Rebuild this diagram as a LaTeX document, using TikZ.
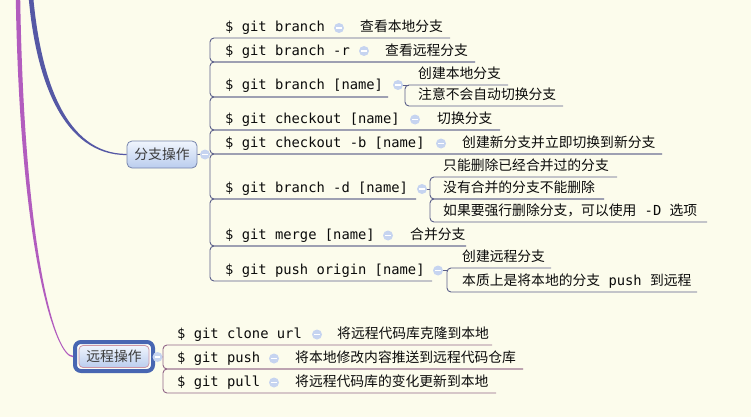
\documentclass[tikz,border=0pt]{standalone}
\usepackage{fontspec}
\setmonofont{DejaVu Sans Mono}
\newfontfamily\cjk{Noto Sans CJK SC}
\definecolor{bg}{RGB}{252,252,236}
\definecolor{txt}{RGB}{10,10,10}
\definecolor{bline}{RGB}{92,96,138}
\definecolor{rline}{RGB}{145,102,135}
\definecolor{bcurve}{RGB}{85,88,165}
\definecolor{mcurve}{RGB}{178,92,190}
\definecolor{collf}{RGB}{198,212,240}
\definecolor{nodetop}{RGB}{240,245,253}
\definecolor{nodebot}{RGB}{186,205,238}
\definecolor{nodeborder}{RGB}{118,132,172}
\definecolor{selring}{RGB}{72,102,178}
\definecolor{rborder}{RGB}{205,150,165}
\tikzset{
  cmd/.style={anchor=base west, inner sep=0pt, text=txt, font=\ttfamily\fontsize{13.8}{16}\selectfont},
  desc/.style={anchor=base west, inner sep=0pt, text=txt, font=\cjk\fontsize{13.8}{16}\selectfont},
  coll/.style={circle, inner sep=0pt, minimum size=10pt, fill=collf,
    path picture={\draw[white, line width=1.1pt] ([xshift=-2.6pt]path picture bounding box.center) -- ([xshift=2.6pt]path picture bounding box.center);}},
  bl/.style={draw=bline, line width=0.9pt, rounded corners=4pt},
  rl/.style={draw=rline, line width=0.9pt, rounded corners=4pt},
  topic/.style={rounded corners=5pt, top color=nodetop, bottom color=nodebot,
    text=txt!80, font=\cjk\fontsize{13.8}{16}\selectfont, inner sep=0pt},
}
\begin{document}
\begin{tikzpicture}[x=1pt,y=-1pt]
\fill[bg] (0,0) rectangle (751,417);
\useasboundingbox (0,0) rectangle (751,417);

% ---------- topics ----------
\node[topic, draw=nodeborder, line width=0.8pt, minimum width=70pt, minimum height=27pt] (br) at (162,154.5) {分支操作};
\node[draw=selring, line width=4pt, rounded corners=6pt, fill=white!70!bg, minimum width=78pt, minimum height=29pt, inner sep=0pt] (rmsel) at (114,356.5) {};
\node[topic, draw=rborder, line width=0.8pt, rounded corners=4pt, minimum width=70pt, minimum height=22pt] (rm) at (114,356.5) {远程操作};

% ---------- main curves ----------
\coordinate (root1) at (31,-2);
\coordinate (root2) at (18,-2);
\fill[bcurve] ([xshift=-2.3pt]root1) .. controls (36,80) and (63,155.1) .. ([yshift=-0.6pt]br.west)
  -- ([yshift=0.6pt]br.west) .. controls (66,153.9) and (41,80) .. ([xshift=2.3pt]root1) -- cycle;
\fill[mcurve] ([xshift=-2.2pt]root2) .. controls (19.8,250) and (55,357.8) .. ([yshift=-0.7pt]rmsel.west)
  -- ([yshift=0.7pt]rmsel.west) .. controls (55,356.2) and (24.2,250) .. ([xshift=2.2pt]root2) -- cycle;

% ---------- branch group brackets (spine x=210) ----------
\draw[bl] (450,38) -- (210,38) -- (210,62) -- (475,62);
\draw[bl] (475,62) -- (210,62) -- (210,97) -- (388,97);
\draw[bl] (388,97) -- (210,97) -- (210,130) -- (500,130);
\draw[bl] (500,130) -- (210,130) -- (210,154) -- (662,154);
\draw[bl] (662,154) -- (210,154) -- (210,199) -- (416,199);
\draw[bl] (416,199) -- (210,199) -- (210,246) -- (466,246);
\draw[bl] (466,246) -- (210,246) -- (210,281) -- (432,281);
\coordinate (brspine) at (210,154);
\draw[bl] (br.east) -- (brspine);

% sub brackets
\draw[bl] (508,85) -- (405,85) -- (405,106) -- (563,106);
\draw[bl] (617,177) -- (430,177) -- (430,199) -- (604,199);
\draw[bl] (604,199) -- (430,199) -- (430,222) -- (707,222);
\draw[bl] (551,268) -- (447,268) -- (447,292) -- (697,292);

% sub connectors (circle centre to sub spine)
\coordinate (cc3) at (398,85);
\coordinate (cc6) at (422,189);
\coordinate (cc8) at (438,270.5);
\coordinate (s3) at (409,85);
\coordinate (s6) at (430,189);
\coordinate (s8) at (447,270.5);
\draw[bl] (cc3) -- (s3);
\draw[bl] (cc6) -- (s6);
\draw[bl] (cc8) -- (s8);

% ---------- remote group brackets (spine x=163) ----------
\draw[rl] (492,345) -- (163,345) -- (163,369) -- (523,369);
\draw[rl] (523,369) -- (163,369) -- (163,393) -- (496,393);
\coordinate (rmspine) at (163,357);
\draw[rl] (rmsel.east) -- (rmspine);

% ---------- branch rows ----------
\node[cmd] (t1) at (225,31.5) {\$ git branch};
\node[desc] (d1) at (360,31.5) {查看本地分支};
\node[cmd] (t2) at (225,55.5) {\$ git branch -r};
\node[desc] (d2) at (385,55.5) {查看远程分支};
\node[cmd] (t3) at (225,90) {\$ git branch [name]};
\node[desc] (d3a) at (418,78.5) {创建本地分支};
\node[desc] (d3b) at (418,99.5) {注意不会自动切换分支};
\node[cmd] (t4) at (225,123.5) {\$ git checkout [name]};
\node[desc] (d4) at (437,123.5) {切换分支};
\node[cmd] (t5) at (225,147.5) {\$ git checkout -b [name]};
\node[desc] (d5) at (462,147.5) {创建新分支并立即切换到新分支};
\node[cmd] (t6) at (225,192.5) {\$ git branch -d [name]};
\node[desc] (d6a) at (443,170.5) {只能删除已经合并过的分支};
\node[desc] (d6b) at (443,192.5) {没有合并的分支不能删除};
\node[desc] (d6c) at (443,215.5) {如果要强行删除分支，可以使用{\ttfamily\ -D\ }选项};
\node[cmd] (t7) at (225,239.5) {\$ git merge [name]};
\node[desc] (d7) at (410,239.5) {合并分支};
\node[cmd] (t8) at (225,274.5) {\$ git push origin [name]};
\node[desc] (d8a) at (462,261.5) {创建远程分支};
\node[desc] (d8b) at (462,285.5) {本质上是将本地的分支{\ttfamily\ push\ }到远程};

% ---------- remote rows ----------
\node[cmd] (r1) at (177,338.5) {\$ git clone url};
\node[desc] (rd1) at (337,338.5) {将远程代码库克隆到本地};
\node[cmd] (r2) at (177,362.5) {\$ git push};
\node[desc] (rd2) at (295,362.5) {将本地修改内容推送到远程代码仓库};
\node[cmd] (r3) at (177,386.5) {\$ git pull};
\node[desc] (rd3) at (295,386.5) {将远程代码库的变化更新到本地};

% ---------- collapse circles ----------
\node[coll] (c3) at (cc3) {};
\node[coll] (c6) at (cc6) {};
\node[coll] (c8) at (cc8) {};
\node[coll] (cbr) at (205,154.5) {};
\node[coll] (crm) at (157.5,357) {};
\node[coll] (c1) at (339,28) {};
\node[coll] (c2) at (364,51) {};
\node[coll] (c4) at (415,119.5) {};
\node[coll] (c5) at (441,143.5) {};
\node[coll] (c7) at (388,235.5) {};
\node[coll] (rc1) at (317,334.5) {};
\node[coll] (rc2) at (274,358.5) {};
\node[coll] (rc3) at (274,382.5) {};
\end{tikzpicture}
\end{document}
